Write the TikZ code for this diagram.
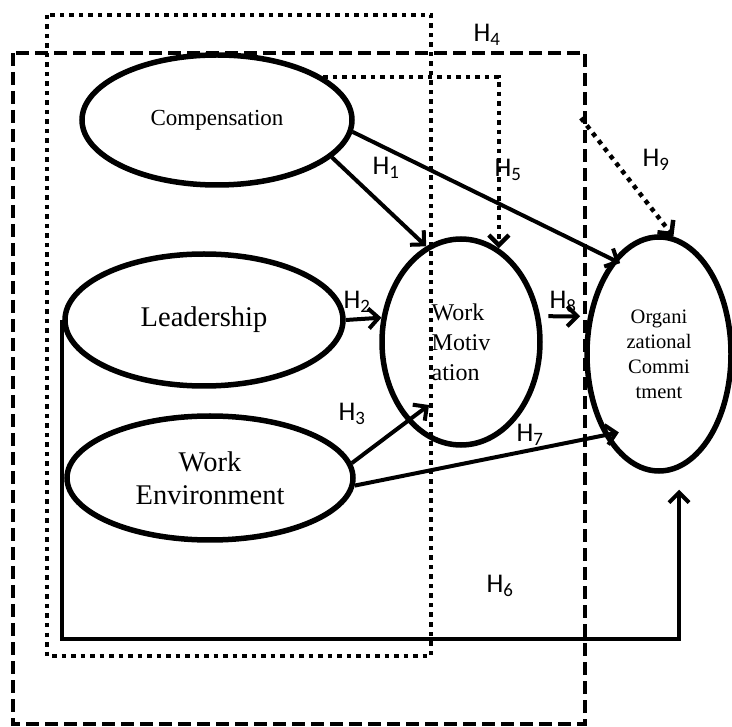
\documentclass[tikz,border=0pt]{standalone}
\usepackage{fontspec}
\setmainfont{Liberation Serif}
\newfontfamily\hypfont{Carlito}
\usepackage{tikz}
\usetikzlibrary{arrows.meta,shapes.geometric,positioning}
\tikzset{
    >={Straight Barb[length=10pt,width=20pt]},
    construct/.style={ellipse,draw,line width=5.5pt,inner sep=0pt,align=center},
    link/.style={->,line width=4pt},
    hyp/.style={font=\hypfont\fontsize{27}{30}\selectfont,inner sep=0pt},
    dotbox/.style={line width=4.5pt,dash pattern=on 4.5pt off 5pt},
    dashbox/.style={line width=4.5pt,dash pattern=on 13pt off 6pt}
}
\begin{document}
\begin{tikzpicture}[x=1pt,y=-1pt]
    \useasboundingbox (0,0) rectangle (732,727);
    % boxes
    \draw[dotbox] (47,15) rectangle (431,656);
    \draw[dashbox] (13,53) rectangle (585,724);
    % constructs
    \node[construct, minimum width=270pt, minimum height=130pt, font=\fontsize{23}{27}\selectfont] (comp) at (217,120) {Compensation};
    \node[construct, minimum width=278pt, minimum height=132pt, font=\fontsize{28.5}{33}\selectfont] (lead) at (204,320) {Leadership};
    \node[construct, minimum width=286pt, minimum height=124pt, font=\fontsize{28.5}{33}\selectfont] (env) at (210,478) {Work\\Environment};
    \node[construct, minimum width=158pt, minimum height=206pt, font=\fontsize{24}{30}\selectfont, align=left] (motiv) at (461,342) {Work\\Motiv\\ation};
    \node[construct, minimum width=144pt, minimum height=234pt, font=\fontsize{20.5}{25}\selectfont] (commit) at (659,354) {Organi\\zational\\Commi\\tment};
    \coordinate (h3tip) at (429,405);
    \coordinate (h9start) at (581,118);
    \coordinate (h6corner) at (679,639);
    % paths
    \draw[link] (comp.-18) -- (motiv.110);
    \draw[link] (lead.east) -- (motiv.163);
    \draw[link] (env.6) -- (h3tip);
    \draw[link, dotbox] (comp.22) -| (motiv.68);
    \draw[link] (lead.west) |- (h6corner) -- ([yshift=-16pt]h6corner |- commit.south);
    \draw[link, shorten >=-15pt] (env.-3) -- (commit.236.5);
    \draw[link, shorten >=-8pt] (comp.-5) -- (commit.116);
    \draw[link, shorten <=8pt, shorten >=8pt] (motiv.18) -- (commit.152);
    \draw[link, dotbox] (h9start) -- (commit.83);
    % labels
    \node[hyp] (h1) at (386,168) {H\textsubscript{1}};
    \node[hyp] (h2) at (357,302) {H\textsubscript{2}};
    \node[hyp] (h3) at (352,414) {H\textsubscript{3}};
    \node[hyp] (h4) at (487,35) {H\textsubscript{4}};
    \node[hyp] (h5) at (508,170) {H\textsubscript{5}};
    \node[hyp] (h6) at (500,586) {H\textsubscript{6}};
    \node[hyp] (h7) at (530,435) {H\textsubscript{7}};
    \node[hyp] (h8) at (563,302) {H\textsubscript{8}};
    \node[hyp] (h9) at (656,160) {H\textsubscript{9}};
\end{tikzpicture}
\end{document}
